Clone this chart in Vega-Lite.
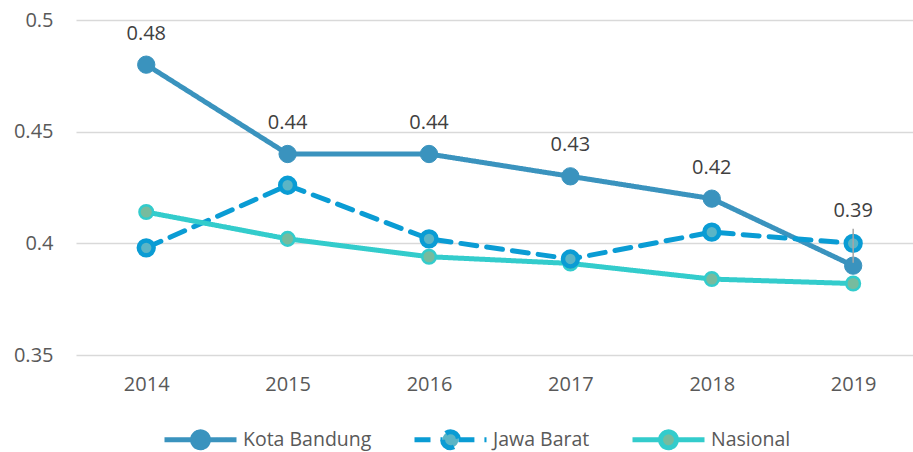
{
  "$schema": "https://vega.github.io/schema/vega-lite/v6.json",
  "width": 837,
  "height": 335,
  "autosize": "none",
  "padding": {"left": 76, "top": 20, "right": 0, "bottom": 97},
  "background": "white",
  "config": {
    "font": "Open Sans",
    "view": {"stroke": null},
    "axis": {"labelFont": "Open Sans", "labelColor": "#595959", "labelFontSize": 20}
  },
  "data": {
    "values": [
      {"year": "2014", "series": "Kota Bandung", "value": 0.48},
      {"year": "2015", "series": "Kota Bandung", "value": 0.44},
      {"year": "2016", "series": "Kota Bandung", "value": 0.44},
      {"year": "2017", "series": "Kota Bandung", "value": 0.43},
      {"year": "2018", "series": "Kota Bandung", "value": 0.42},
      {"year": "2019", "series": "Kota Bandung", "value": 0.39},
      {"year": "2014", "series": "Jawa Barat", "value": 0.398},
      {"year": "2015", "series": "Jawa Barat", "value": 0.426},
      {"year": "2016", "series": "Jawa Barat", "value": 0.402},
      {"year": "2017", "series": "Jawa Barat", "value": 0.393},
      {"year": "2018", "series": "Jawa Barat", "value": 0.405},
      {"year": "2019", "series": "Jawa Barat", "value": 0.400},
      {"year": "2014", "series": "Nasional", "value": 0.414},
      {"year": "2015", "series": "Nasional", "value": 0.402},
      {"year": "2016", "series": "Nasional", "value": 0.394},
      {"year": "2017", "series": "Nasional", "value": 0.391},
      {"year": "2018", "series": "Nasional", "value": 0.384},
      {"year": "2019", "series": "Nasional", "value": 0.382}
    ]
  },
  "encoding": {
    "x": {
      "field": "year", "type": "ordinal", "title": null,
      "scale": {"type": "point", "padding": 0.46, "align": 0.54},
      "axis": {"labelAngle": 0, "ticks": false, "domain": false, "labelPadding": 19, "grid": false}
    },
    "y": {
      "field": "value", "type": "quantitative", "title": null,
      "scale": {"domain": [0.35, 0.5], "zero": false, "nice": false},
      "axis": {"values": [0.35, 0.4, 0.45, 0.5], "format": ".2~f", "ticks": false, "domain": false, "labelPadding": 23, "gridColor": "#D9D9D9", "gridWidth": 1.5}
    }
  },
  "layer": [
    {
      "mark": {"type": "line", "strokeWidth": 5, "strokeCap": "round", "strokeJoin": "round"},
      "encoding": {
        "detail": {"field": "series"},
        "order": {"field": "year"},
        "stroke": {
          "field": "series", "type": "nominal", "title": null,
          "scale": {"domain": ["Kota Bandung", "Jawa Barat", "Nasional"], "range": ["#3A93BE", "#0A9CD4", "#33CCCC"]},
          "legend": {
            "orient": "none", "legendX": 86, "legendY": 381, "direction": "horizontal",
            "symbolType": "M-1,0H-0.22M0.22,0H1M-0.22,0A0.22,0.22 0 1,0 0.22,0A0.22,0.22 0 1,0 -0.22,0Z",
            "symbolSize": 5184, "symbolStrokeWidth": 5,
            "labelFontSize": 19.5, "labelColor": "#595959", "labelFont": "Open Sans",
            "labelOffset": 4, "columnPadding": 32
          }
        },
        "strokeDash": {
          "field": "series", "type": "nominal", "title": null,
          "scale": {"domain": ["Kota Bandung", "Jawa Barat", "Nasional"], "range": [[1, 0], [16, 10], [1, 0]]}
        }
      }
    },
    {
      "transform": [{"filter": "datum.series === 'Nasional'"}],
      "mark": {"type": "point", "shape": "circle", "filled": true, "opacity": 1, "size": 185, "strokeWidth": 2.5},
      "encoding": {
        "fill": {
          "field": "series", "type": "nominal", "title": null,
          "scale": {"domain": ["Kota Bandung", "Jawa Barat", "Nasional"], "range": ["#3A93BE", "#5BB5C6", "#77BB9E"]}
        },
        "stroke": {"field": "series", "type": "nominal", "title": null}
      }
    },
    {
      "transform": [{"filter": "datum.series === 'Jawa Barat'"}],
      "mark": {"type": "point", "shape": "circle", "filled": true, "opacity": 1, "size": 220, "strokeWidth": 4.5},
      "encoding": {
        "fill": {"field": "series", "type": "nominal", "title": null},
        "stroke": {"field": "series", "type": "nominal", "title": null}
      }
    },
    {
      "transform": [{"filter": "datum.series === 'Kota Bandung'"}],
      "mark": {"type": "point", "shape": "circle", "filled": true, "opacity": 1, "size": 300, "strokeWidth": 1},
      "encoding": {
        "fill": {"field": "series", "type": "nominal", "title": null},
        "stroke": {"field": "series", "type": "nominal", "title": null}
      }
    },
    {
      "transform": [{"filter": "datum.series === 'Kota Bandung' && datum.year !== '2019'"}],
      "mark": {"type": "text", "dy": -31, "fontSize": 20, "color": "#404040", "font": "Open Sans"},
      "encoding": {"text": {"field": "value", "type": "quantitative", "format": ".2f"}}
    },
    {
      "transform": [{"filter": "datum.series === 'Kota Bandung' && datum.year === '2019'"}],
      "mark": {"type": "rule", "color": "#A6A6A6", "strokeWidth": 1.5, "yOffset": -3, "y2Offset": -37},
      "encoding": {"y2": {"field": "value"}}
    },
    {
      "transform": [{"filter": "datum.series === 'Kota Bandung' && datum.year === '2019'"}],
      "mark": {"type": "text", "dy": -55, "fontSize": 20, "color": "#404040", "font": "Open Sans"},
      "encoding": {"text": {"field": "value", "type": "quantitative", "format": ".2f"}}
    }
  ]
}
